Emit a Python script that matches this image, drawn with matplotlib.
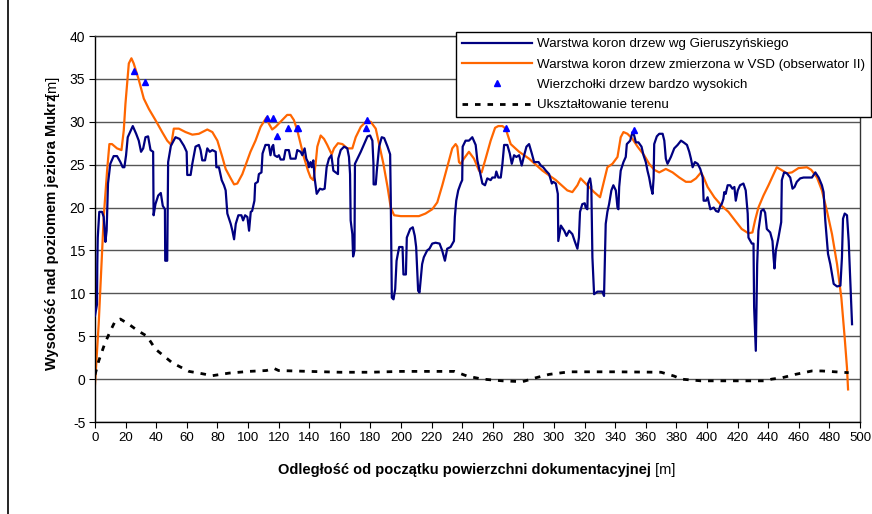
import matplotlib
matplotlib.use('Agg')
import matplotlib.pyplot as plt
from matplotlib.lines import Line2D

# Warstwa koron drzew wg Gieruszyńskiego (blue)
gier_x = [0, 1.3, 1.5, 1.8, 2.8, 4.6, 5.7, 6.8, 7.6, 8.5, 10, 12.2, 14.4, 16.6, 18.1, 19.2, 20.3, 21.4,
          24.7, 26.9, 28.6, 30.1, 31.5, 33, 34.7, 36.3, 38, 38.3, 39.5, 41.3, 43, 44.3, 45.7, 45.9, 47.2,
          47.8, 49.6, 52.6, 55.3, 58.1, 59.9, 60.3, 62.5, 63.6, 65.7, 67.9, 69, 70.1, 71.9, 73.4, 75, 76.7,
          78.9, 79.3, 81, 82.8, 84.3, 85.4, 86.5, 88.7, 89.8, 90.9, 92, 93.7, 95.7, 96.8, 98.1, 99.6, 100.7,
          101.8, 102.7, 104.2, 104.7, 106.4, 107.1, 108.8, 109.5, 111.4, 113.6, 114.7, 115.8, 116.5, 117.3,
          119.1, 120.2, 121.3, 123.4, 124.5, 126.7, 127.8, 131.1, 132.2, 134.4, 135.5, 137, 138.1, 139.2,
          139.8, 140.9, 141.6, 142.7, 143.5, 144.9, 147, 148.6, 150.1, 151.4, 152.9, 154.5, 155.8, 157.3,
          158.8, 159, 160.6, 162.8, 164.9, 166, 166.7, 167.1, 168.2, 168.7, 169.6, 169.9, 171.5, 173.7,
          175.9, 178.1, 179.8, 181.3, 182, 182.1, 183.5, 184.2, 185.7, 187.4, 189, 191.2, 192.9, 193.3, 194,
          195.1, 196.2, 197.1, 198.8, 201, 201.6, 203.2, 203.8, 206, 207.7, 209, 209.9, 210.6, 211.2, 212.1,
          213, 213.8, 214.9, 217.1, 218.6, 220.4, 222.6, 225.2, 226.9, 228.7, 230.2, 232.4, 234.6, 235.2,
          236.1, 237.4, 239, 240, 240.3, 242.2, 244.4, 246.6, 248.8, 249.9, 251.4, 253.2, 254.9, 256.4,
          258.6, 259.7, 261.5, 262.3, 263.6, 265.2, 266.3, 267.4, 269.5, 271.1, 272.4, 273.9, 275.4, 277.2,
          278.9, 280.5, 282, 283.7, 285.5, 287, 289.9, 291.4, 292.9, 294.7, 296.8, 298.6, 299.5, 301.2,
          302.5, 302.8, 304.5, 306.7, 308.2, 309.9, 312, 313.5, 315.3, 316.3, 317, 318.5, 320.1, 320.7,
          321.8, 322.2, 323.6, 324.4, 325.1, 326.2, 328.4, 331.6, 332.7, 333.8, 334.9, 336, 337.5, 338.8,
          340.4, 341.5, 342.1, 342.6, 343.6, 345.4, 346.9, 347.6, 349.8, 351.3, 352.4, 353.5, 355.2, 357.2,
          358.5, 360, 361.1, 362.2, 363.3, 364.4, 365.1, 365.5, 367.2, 368.8, 371, 372.1, 373.1, 374.2,
          376.4, 378.6, 380.8, 383, 384.7, 386.9, 388.4, 389.5, 390.6, 392.1, 393.9, 395.6, 397.2, 397.8,
          399.4, 400.4, 402.2, 404.4, 405.9, 407.4, 408.7, 409.6, 410.7, 411.3, 412.2, 413.5, 415.1, 416.6,
          417.9, 418.8, 420.1, 421.6, 423.8, 425.3, 426.6, 427.1, 429.3, 430.4, 430.8, 431.9, 432.8, 433.6,
          435.4, 436.9, 438, 439.1, 441.3, 442.8, 443.5, 444.1, 445, 446.7, 448.5, 448.9, 450.4, 452.2,
          454.4, 455.9, 457.2, 458.7, 460.9, 463.1, 466.4, 468.6, 470.8, 473, 475.1, 476.2, 477.3, 479.1,
          480.6, 482.8, 485, 487.2, 488.2, 488.9, 490, 491.5, 492.6, 493.7, 494.8]
gier_y = [7.4, 8.7, 13.4, 16.5, 19.5, 19.5, 18.9, 16, 17.3, 22.8, 25.1, 26, 26, 25.3, 24.7, 24.7, 26.1, 28.2,
          29.5, 28.6, 27.8, 26.5, 26.9, 28.2, 28.3, 26.7, 26.5, 19.1, 20.4, 21.4, 21.7, 20.2, 19.8, 13.8, 13.8,
          25.3, 27.2, 28.2, 28, 27.2, 26.5, 23.8, 23.8, 25.1, 27.1, 27.3, 26.7, 25.5, 25.5, 26.9, 26.5, 26.7,
          26.5, 24.7, 24.7, 23.2, 22.6, 22, 19.3, 18.1, 17.3, 16.3, 18.1, 19.1, 19.1, 18.5, 19.1, 18.9, 17.3,
          19.5, 19.6, 20.8, 22.8, 23, 23.9, 24.1, 26.3, 27.3, 27.3, 26.1, 27.1, 27.3, 26.1,
          25.9, 26.1, 25.6, 25.6, 26.7, 26.7, 25.7, 25.7, 26.7, 26.5, 26.1, 26.9, 25.7, 25.3,
          24.7, 25.3, 24.7, 25.5, 23.5, 21.6, 22.2, 22.1, 22.2, 24.7, 25.7, 26.1, 24.3, 24.1,
          23.9, 25.7, 26.7, 27.1, 26.9, 25.9, 23.9, 18.5, 16.9, 14.3, 15, 25.1, 25.7, 26.5,
          27.4, 28.3, 28.4, 27.8, 25.1, 22.7, 22.7, 24.3, 27.1, 28.2, 28.1, 27.1, 26.2, 21.2, 9.5,
          9.3, 10.5, 13.8, 15.4, 15.4, 12.2, 12.2, 16.5, 17.5, 17.7, 16.7, 15.4, 12.6, 10.3, 10.1,
          11.9, 13.4, 14.2, 15, 15.2, 15.8, 15.9, 15.8, 15, 13.8, 15.2, 15.4, 16.1, 18.9,
          20.8, 22, 22.8, 23.2, 27.1, 27.8, 27.8, 28.2, 27.3, 25.5, 24.3, 22.8, 22.6, 23.4,
          23.2, 23.5, 23.5, 24.2, 23.5, 23.5, 25.1, 27.3, 27.3, 26.3, 25.1, 26.1, 25.9, 26.1,
          24.9, 26.1, 27.1, 27.4, 26.3, 25.3, 25.3, 24.9, 24.7, 24.3, 23.9, 22.8, 23, 22.8,
          21.6, 16.1, 17.9, 17.3, 16.7, 17.3, 16.9, 16.1, 15.2, 16.5, 19.5, 20.4, 20.5, 20,
          19.8, 22.8, 23.4, 22.4, 14.2, 9.9, 10.2, 10.2, 9.7, 18.1, 19.5, 20.4, 22, 22.6,
          22, 20, 19.8, 22.4, 24.3, 25.3, 25.9, 27.4, 27.8, 28.8, 28.4, 27.6, 27.6, 27.1,
          26.1, 25.3, 24.3, 23.5, 22.4, 21.6, 23.4, 27.4, 28.3, 28.6, 28.6, 27.8, 25.7, 25.1,
          25.9, 26.9, 27.3, 27.8, 27.6, 27.3, 26.5, 25.7, 24.7, 25.3, 25.1, 24.5, 23.5, 20.8,
          20.8, 21.2, 19.8, 20, 19.6, 19.5, 20.2, 20.4, 21, 21.8, 21.6, 22.6, 22.6, 22.2,
          22.4, 20.8, 22, 22.6, 22.8, 22, 19.3, 16.5, 15.8, 15.8, 8.4, 3.3, 13.4, 17.3,
          19.6, 19.8, 19.4, 17.5, 17.1, 16.1, 14.2, 12.9, 15, 16.5, 18.3, 23.2, 24.1, 24,
          23.5, 22.2, 22.4, 23, 23.4, 23.5, 23.5, 23.5, 24.1, 23.5, 22.6, 21.8, 18.5, 14.6,
          13.4, 11.1, 10.8, 10.9, 14.2, 18.7, 19.3, 19.1, 16.1, 11.1, 6.4]

# Warstwa koron drzew zmierzona w VSD (orange)
vsd_x = [0, 2.4, 5.7, 7.9, 9.4, 11.1, 14.4, 17.3, 18.8, 19.9, 22.1, 23.8, 25.3, 28.6, 31.9, 35.2, 39.5,
         43.9, 47.2, 49.8, 51.5, 54.8, 59.2, 63.6, 67.9, 73.4, 76.7, 80, 83.2, 85.4, 88.7, 90.9, 93, 96.3,
         99.6, 101.6, 104.9, 108.2, 112.1, 113.6, 115.8, 118, 122.4, 125.6, 127.8, 130, 132.2, 134.4,
         136.5, 139.2, 140.9, 142.7, 144.2, 145.3, 147.5, 149.7, 151.8, 154.7, 156.2, 158.8, 161.7,
         164.9, 168.2, 170.4, 173.7, 177, 180.2, 183.5, 185.7, 188.5, 191.2, 193.3, 195.5, 199.9, 206.4,
         211.7, 216, 220.4, 223.7, 227, 230.2, 233.5, 235.7, 236.8, 237.9, 239, 241.1, 244.4, 247.7, 251,
         252.7, 255.3, 258.6, 261.5, 263.6, 266.3, 268.4, 270.2, 271.7, 277.2, 283.7, 292.5, 301.2, 308.7,
         312, 315.3, 317.4, 319.6, 322.9, 326.2, 330.1, 332.3, 334.9, 338.2, 341.5, 343.6, 345.4, 348,
         351.3, 354.6, 358.9, 362.2, 365.5, 368.8, 373.1, 377.5, 381.9, 386.2, 389.5, 392.8, 396.1, 397.8,
         400.4, 404.8, 409.6, 414, 418.3, 422.7, 427.1, 429.7, 431.4, 433.6, 436.9, 440.2, 443.5, 445.6,
         448.5, 452.2, 455.5, 459.8, 465.3, 468.1, 471.9, 475.1, 478.4, 481.7, 485, 487.8, 490, 491.5, 492.2]
vsd_y = [-0.6, 6.4, 18.9, 24.3, 27.4, 27.4, 26.9, 26.7, 29, 32.1, 36.8, 37.4, 36.8, 34.9, 32.7, 31.5, 30.2,
         28.8, 27.8, 27.3, 29.2, 29.2, 28.8, 28.5, 28.6, 29.1, 28.8, 27.8, 25.9, 24.5, 23.4, 22.7, 22.8, 23.9,
         25.5, 26.5, 27.8, 29.4, 30.5, 29.8, 29.1, 29.4, 30.2, 30.8, 30.8, 30.2, 29, 27.4,
         25.9, 24.3, 23.5, 23.2, 25.1, 27.1, 28.4, 28, 27.3, 26.2, 26.9, 27.5, 27.4,
         26.9, 26.9, 28.2, 29.4, 30, 30, 29.2, 27.4, 25.1, 22.4, 20, 19.1, 19, 19,
         19, 19.3, 19.8, 20.6, 22.6, 24.7, 26.9, 27.4, 27.1, 25.3, 25.1, 25.7, 26.5, 25.7, 24.3,
         24.1, 25.7, 27.8, 29.3, 29.5, 29.5, 29.2, 28.2, 27.4, 26.5, 25.7, 24.3, 23.2, 22,
         21.8, 22.6, 23.4, 23, 22.4, 21.8, 21.2, 22.8, 24.7, 25.1, 25.9, 28.2, 28.8, 28.6,
         28, 27.1, 26.1, 25.1, 24.4, 24.1, 24.5, 24.1, 23.5, 23, 23, 23.4, 24.1, 23.5,
         22.4, 21.2, 20.2, 19.5, 18.5, 17.5, 17, 17.1, 18.5, 20, 21.4, 22.6, 23.9, 24.7,
         24.4, 24, 24.1, 24.6, 24.7, 24.4, 23.5, 22, 19.6, 16.9, 13.4, 9.5, 4.8, 1.3, -1.2]

# Wierzchołki drzew bardzo wysokich
peak_x = [25.8, 33, 112.5, 116.5, 119.1, 126.3, 131.7, 132.8, 177, 178.1, 268.4, 352.4]
peak_y = [35.9, 34.6, 30.4, 30.4, 28.3, 29.3, 29.3, 29.3, 29.3, 30.2, 29.3, 29.0]

# Ukształtowanie terenu
terr_x = [0, 2.4, 6.3, 10, 13.3, 16.6, 22.1, 27.5, 34, 39.5, 45, 50.5, 61.4, 68, 76.7, 87.6, 100.7, 112,
          117, 120, 140, 160, 180, 200, 235, 243.3, 253.2, 266.3, 279.4, 288, 296.8, 309.9, 340, 370,
          378.6, 383, 396, 413.5, 438, 442.4, 448.9, 457.7, 468.6, 475.1, 483.9, 492.6]
terr_y = [0.5, 2.1, 4.1, 5.6, 6.8, 7.0, 6.4, 5.7, 5.0, 3.5, 2.7, 1.9, 0.9, 0.7, 0.4, 0.7, 0.9, 1.0,
          1.25, 1.0, 0.9, 0.8, 0.8, 0.9, 0.9, 0.35, 0.0, -0.2, -0.3, 0.15, 0.55, 0.85, 0.85, 0.8,
          0.35, 0.0, -0.2, -0.2, -0.2, 0.0, 0.15, 0.55, 0.95, 0.95, 0.85, 0.75]

plt.rcParams['font.family'] = ['Liberation Sans', 'DejaVu Sans']
plt.rcParams['axes.unicode_minus'] = False

W, H = 872, 514
fig = plt.figure(figsize=(W / 100, H / 100), dpi=100)
ax = fig.add_axes([95 / W, 1 - 422 / H, (860 - 95) / W, (422 - 36) / H])

ax.plot(gier_x, gier_y, '-', color='#000080', lw=1.6, label='Warstwa koron drzew wg Gieruszyńskiego', zorder=3)
ax.plot(vsd_x, vsd_y, '-', color='#ff6600', lw=1.6,
        label='Warstwa koron drzew zmierzona w VSD (obserwator II)', zorder=2)
ax.plot(peak_x, peak_y, '^', color='#0000ff', ms=5, ls='none', label='Wierzchołki drzew bardzo wysokich', zorder=4)
ax.plot(terr_x, terr_y, color='black', lw=2, ls=(0, (2, 2.5)), label='Ukształtowanie terenu', zorder=3)

ax.set_xlim(0, 500)
ax.set_ylim(-5, 40)
ax.set_xticks(range(0, 501, 20))
ax.set_yticks(range(-5, 41, 5))
ax.grid(axis='y', color='#555555', lw=1)
ax.set_axisbelow(True)
for s in ax.spines.values():
    s.set_color('#333333')
    s.set_linewidth(1)
ax.spines['left'].set_color('black')
ax.spines['bottom'].set_color('black')
ax.tick_params(direction='out', length=4, color='black', labelsize=10, pad=3)
ax.tick_params(axis='x', labelsize=9.5)

leg = ax.legend(loc='upper right', bbox_to_anchor=(871 / W, 1 - 32 / H), bbox_transform=fig.transFigure,
                fontsize=9.6, frameon=True, fancybox=False, framealpha=1, edgecolor='black',
                handlelength=5.2, handletextpad=0.4, labelspacing=0.6, borderpad=0.45, numpoints=1,
                borderaxespad=0)
leg.get_frame().set_linewidth(1)
leg.set_zorder(10)

# axis titles: bold part followed by regular "[m]"
fig.canvas.draw()
r = fig.canvas.get_renderer()
xt = fig.text(0, 1 - 470 / H, 'Odległość od początku powierzchni dokumentacyjnej', fontsize=10.5,
              fontweight='bold', va='center', ha='left')
xu = fig.text(0, 1 - 470 / H, ' [m]', fontsize=10.5, va='center', ha='left')
w1 = xt.get_window_extent(r).width
w2 = xu.get_window_extent(r).width
x0 = 477 - (w1 + w2) / 2
xt.set_x(x0 / W)
xu.set_x((x0 + w1) / W)

yt = fig.text(52 / W, 0, 'Wysokość nad poziomem jeziora Mukrz', fontsize=10.5, fontweight='bold',
              rotation=90, ha='center', va='bottom')
yu = fig.text(52 / W, 0, '[m]', fontsize=10.5, rotation=90, ha='center', va='bottom')
h1 = yt.get_window_extent(r).height
h2 = yu.get_window_extent(r).height
y0 = (H - 222) - (h1 + h2) / 2
yt.set_y(y0 / H)
yu.set_y((y0 + h1 - 2) / H)

# outer chart border on the left
fig.add_artist(Line2D([8 / W, 8 / W], [0, 1], color='black', lw=1.2, transform=fig.transFigure))

fig.savefig('out.png', dpi=100)
